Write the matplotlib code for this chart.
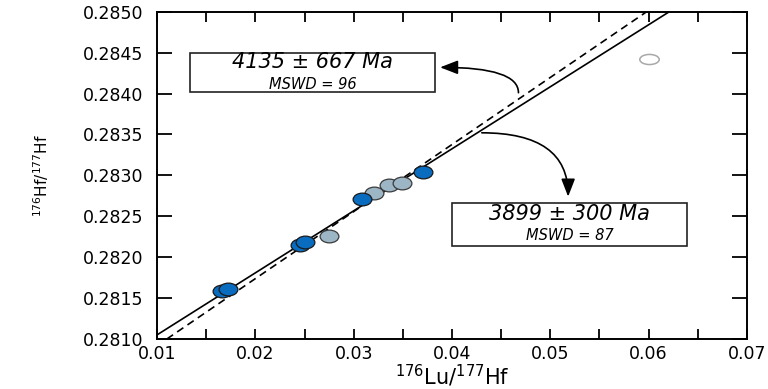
import matplotlib
matplotlib.use("Agg")
import matplotlib.pyplot as plt
from matplotlib.path import Path
from matplotlib.transforms import Affine2D
from matplotlib.patches import Rectangle
from matplotlib.ticker import MultipleLocator, FormatStrFormatter

# ---- data ----
blue_x = [0.01661, 0.01717, 0.02455, 0.02506, 0.03088, 0.03703]
blue_y = [0.28159, 0.28161, 0.28215, 0.28218, 0.28271, 0.28304]
grey_x = [0.02753, 0.03208, 0.03360, 0.03489]
grey_y = [0.28226, 0.28279, 0.28288, 0.28291]
open_x = [0.06005]
open_y = [0.28442]

# isochron lines (end points)
iso_solid_x = [0.0100, 0.0621]     # 3899 +/- 300 Ma
iso_solid_y = [0.28105, 0.28500]
iso_dash_x = [0.0110, 0.0598]      # 4135 +/- 667 Ma
iso_dash_y = [0.28100, 0.28500]

label_old = "4135 ± 667 Ma"
mswd_old = "MSWD = 96"
label_new = "3899 ± 300 Ma"
mswd_new = "MSWD = 87"

x_ticks_major = [0.01, 0.02, 0.03, 0.04, 0.05, 0.06, 0.07]
y_range = (0.2810, 0.2850)

# ---- figure ----
fig = plt.figure(figsize=(7.68, 3.89), dpi=100)
ax = fig.add_axes([157 / 768, 1 - 339 / 389, 590 / 768, (339 - 11.7) / 389])

def ellipse_marker(aspect):
    return Path.unit_circle().transformed(Affine2D().scale(1.0, aspect))

m_fill = ellipse_marker(0.68)
m_open = ellipse_marker(0.52)

ax.plot(iso_solid_x, iso_solid_y, color="black", lw=1.2, zorder=2, solid_capstyle="butt")
ax.plot(iso_dash_x, iso_dash_y, color="black", lw=1.2, ls=(0, (4.5, 3)), zorder=2)

ax.plot(grey_x, grey_y, ls="none", marker=m_fill, ms=13.5, mfc="#9db6c6",
        mec="#3a3a3a", mew=0.9, zorder=3)
ax.plot(blue_x, blue_y, ls="none", marker=m_fill, ms=13.5, mfc="#0a6cbf",
        mec="#1a1a1a", mew=0.9, zorder=4)
ax.plot(open_x, open_y, ls="none", marker=m_open, ms=14, mfc="none",
        mec="#a8a8a8", mew=1.1, zorder=3)

ax.set_xlim(x_ticks_major[0], x_ticks_major[-1])
ax.set_ylim(*y_range)

ax.xaxis.set_major_locator(MultipleLocator(0.01))
ax.xaxis.set_minor_locator(MultipleLocator(0.005))
ax.yaxis.set_major_locator(MultipleLocator(0.0005))
ax.xaxis.set_major_formatter(FormatStrFormatter("%.2f"))
ax.yaxis.set_major_formatter(FormatStrFormatter("%.4f"))

ax.tick_params(axis="x", which="both", direction="in", top=True, bottom=True,
               length=7, width=1.3, labelsize=12.5, pad=4)
ax.tick_params(axis="y", which="both", direction="in", left=True, right=True,
               length=11, width=1.3, labelsize=12.5, pad=10)
for s in ax.spines.values():
    s.set_linewidth(1.4)

ax.set_xlabel(r"$^{176}$Lu/$^{177}$Hf", fontsize=15, labelpad=0)
ax.set_ylabel(r"$^{176}$Hf/$^{177}$Hf", fontsize=11)
ax.yaxis.set_label_coords(-0.18, 0.5)

# ---- annotation boxes ----
def add_box(x0, x1, y0, y1, t1, t2, y_t1, y_t2):
    ax.add_patch(Rectangle((x0, y0), x1 - x0, y1 - y0, fill=True, fc="white",
                           ec="#222222", lw=1.2, zorder=5))
    xc = (x0 + x1) / 2
    ax.text(xc, y_t1, t1, ha="center", va="center", fontsize=15,
            style="italic", zorder=6)
    ax.text(xc, y_t2, t2, ha="center", va="center", fontsize=10.5,
            style="italic", zorder=6)

add_box(0.01336, 0.03828, 0.28402, 0.28450, label_old, mswd_old, 0.28438, 0.28411)
add_box(0.04001, 0.06392, 0.28214, 0.28266, label_new, mswd_new, 0.28253, 0.28226)

# ---- curved arrows ----
ap = dict(arrowstyle="-|>,head_length=0.9,head_width=0.35", color="black",
          lw=1.2, shrinkA=0, shrinkB=0, mutation_scale=12)
ax.annotate("", xy=(0.03879, 0.28432), xytext=(0.04676, 0.28401),
            arrowprops=dict(ap, connectionstyle="angle3,angleA=90,angleB=0"), zorder=6)
ax.annotate("", xy=(0.05181, 0.28274), xytext=(0.04303, 0.28352),
            arrowprops=dict(ap, connectionstyle="angle3,angleA=0,angleB=90"), zorder=6)

fig.savefig("out.png", dpi=100)
